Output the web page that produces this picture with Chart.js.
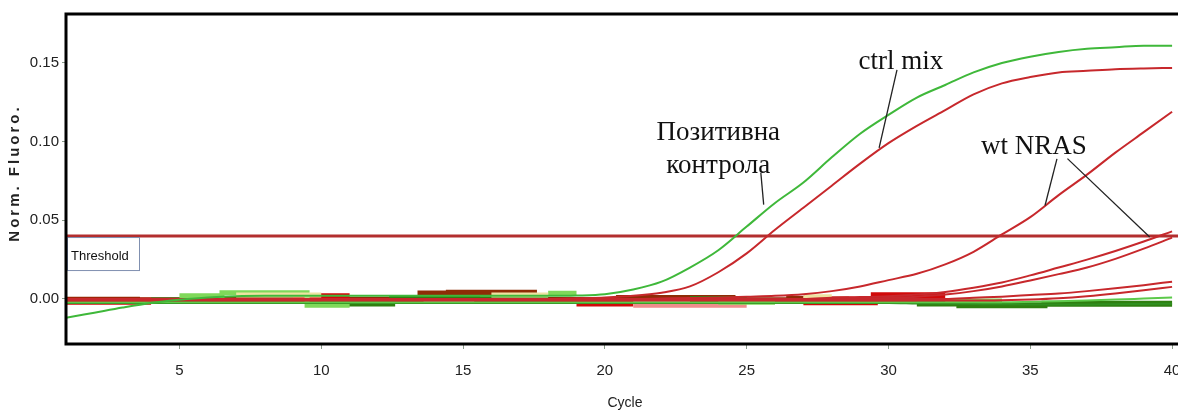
<!DOCTYPE html>
<html>
<head>
<meta charset="utf-8">
<script src="https://cdn.jsdelivr.net/npm/chart.js@4.4.0/dist/chart.umd.min.js"></script>
<style>
  html, body { margin: 0; padding: 0; background: #fff; overflow: hidden; }
  #wrap { width: 1184px; height: 412px; position: relative; }
</style>
</head>
<body>
<div id="wrap"><canvas id="pcrChart"></canvas></div>
<script>
// cycles and axis ticks
const cycles = [1, 2, 3, 4, 5, 6, 7, 8, 9, 10, 11, 12, 13, 14, 15, 16, 17, 18, 19, 20,
  21, 22, 23, 24, 25, 26, 27, 28, 29, 30, 31, 32, 33, 34, 35, 36, 37, 38, 39, 40];
const xTicks = [5, 10, 15, 20, 25, 30, 35, 40];
const yTicks = [0, 0.05, 0.10, 0.15];
const thresholdValue = 0.04;

// amplification curves (Norm. Fluoro. per cycle)
const positiveControl = [-0.0120, -0.0087, -0.0054, -0.0025, -0.0005, 0.0010, 0.0018, 0.0020, 0.0020, 0.0020,
  0.0020, 0.0020, 0.0020, 0.0020, 0.0020, 0.0020, 0.0020, 0.0020, 0.0022, 0.0030,
  0.0060, 0.0110, 0.0200, 0.0310, 0.0460, 0.0610, 0.0740, 0.0900, 0.1050, 0.1170,
  0.1280, 0.1360, 0.1440, 0.1500, 0.1540, 0.1570, 0.1590, 0.1600, 0.1610, 0.1610];
const ctrlMix = [0, 0, 0, 0, 0, 0, 0, 0, 0, 0,
  0, 0, 0, 0, 0, 0, 0, 0, 0.0005, 0.0010,
  0.0020, 0.0040, 0.0080, 0.0170, 0.0290, 0.0440, 0.0580, 0.0720, 0.0860, 0.0990,
  0.1100, 0.1200, 0.1300, 0.1370, 0.1410, 0.1440, 0.1450, 0.1460, 0.1465, 0.1468];
const wtNras1 = [0, 0, 0, 0, 0, 0, 0, 0, 0, 0,
  0, 0, 0, 0, 0, 0, 0, 0, 0, 0,
  0, 0.0003, 0.0006, 0.0010, 0.0015, 0.0020, 0.0030, 0.0050, 0.0080, 0.0120,
  0.0160, 0.0220, 0.0300, 0.0410, 0.0520, 0.0660, 0.0790, 0.0930, 0.1060, 0.1190];
const wtNras2 = [0, 0, 0, 0, 0, 0, 0, 0, 0, 0,
  0, 0, 0, 0, 0, 0, 0, 0, 0, 0,
  0, 0, 0, 0, 0, 0, 0, 0.0008, 0.0012, 0.0018,
  0.0028, 0.0045, 0.0072, 0.0105, 0.0150, 0.0200, 0.0250, 0.0305, 0.0365, 0.0430];
const wtNras3 = [0, 0, 0, 0, 0, 0, 0, 0, 0, 0,
  0, 0, 0, 0, 0, 0, 0, 0, 0, 0,
  0, 0, 0, 0, 0, 0, 0, 0, 0, 0.0008,
  0.0015, 0.0028, 0.0050, 0.0080, 0.0118, 0.0158, 0.0200, 0.0255, 0.0320, 0.0390];
const lowRed1 = [0, 0, 0, 0, 0, 0, 0, 0, 0, 0,
  0, 0, 0, 0, 0, 0, 0, 0, 0, 0,
  0, 0, 0, 0, 0, 0, 0, 0, 0, 0,
  0, 0, 0.0008, 0.0015, 0.0025, 0.0035, 0.0050, 0.0068, 0.0088, 0.0110];
const lowRed2 = [-0.0010, -0.0010, -0.0010, -0.0010, -0.0010, -0.0010, -0.0010, -0.0010, -0.0010, -0.0010,
  -0.0010, -0.0010, -0.0010, -0.0010, -0.0010, -0.0010, -0.0010, -0.0010, -0.0010, -0.0010,
  -0.0010, -0.0010, -0.0010, -0.0010, -0.0010, -0.0010, -0.0010, -0.0010, -0.0010, -0.0010,
  -0.0010, -0.0010, -0.0010, -0.0008, -0.0003, 0.0005, 0.0018, 0.0035, 0.0055, 0.0077];
const negGreen1 = [-0.0020, -0.0020, -0.0020, -0.0020, -0.0020, -0.0020, -0.0020, -0.0020, -0.0020, -0.0020,
  -0.0020, -0.0020, -0.0020, -0.0020, -0.0020, -0.0020, -0.0020, -0.0020, -0.0020, -0.0020,
  -0.0020, -0.0020, -0.0020, -0.0020, -0.0020, -0.0020, -0.0020, -0.0020, -0.0020, -0.0020,
  -0.0020, -0.0020, -0.0020, -0.0020, -0.0018, -0.0015, -0.0010, -0.0004, 0.0003, 0.0010];
const negGreen2 = [-0.0025, -0.0025, -0.0025, -0.0025, -0.0025, -0.0025, -0.0025, -0.0025, -0.0025, -0.0025,
  -0.0025, -0.0025, -0.0025, -0.0025, -0.0025, -0.0025, -0.0025, -0.0025, -0.0025, -0.0025,
  -0.0025, -0.0025, -0.0025, -0.0025, -0.0025, -0.0025, -0.0025, -0.0025, -0.0025, -0.0025,
  -0.0028, -0.0030, -0.0032, -0.0034, -0.0035, -0.0035, -0.0035, -0.0033, -0.0032, -0.0030];

// noisy baseline pieces (stepped)
const bandBrown = [-0.0005, -0.0005, -0.0005, -0.0008, -0.0008, -0.0008, -0.0006, -0.0006, -0.0006, -0.0006,
  -0.0005, -0.0005, -0.0005, 0.0035, 0.0040, 0.0040, 0.0040, -0.0006, -0.0006, -0.0006,
  0.0006, 0.0006, 0.0006, 0.0006, -0.0008, -0.0008, 0.0000, 0.0000, -0.0008, -0.0008,
  -0.0008, -0.0025, -0.0025, -0.0025, null, null, null, null, null, null];
const bandRed = [-0.0014, -0.0014, -0.0014, -0.0014, null, null, null, null, 0.0015, 0.0015,
  0.0015, null, null, null, null, null, null, null, -0.0025, -0.0025,
  -0.0025, null, null, null, null, null, -0.0018, -0.0018, -0.0018, 0.0020,
  0.0020, 0.0020, null, null, null, null, null, null, null, null];
const bandGreen = [null, null, null, -0.0010, -0.0010, -0.0010, null, null, null, -0.0028,
  -0.0028, -0.0028, 0.0005, 0.0005, 0.0005, -0.0002, -0.0002, -0.0002, null, null,
  null, null, 0.0000, 0.0000, 0.0000, null, null, null, null, null,
  -0.0028, -0.0028, -0.0040, -0.0040, -0.0040, -0.0030, -0.0030, -0.0030, -0.0030, -0.0030];
const bandLight = [null, null, null, null, 0.0020, 0.0020, 0.0040, 0.0040, 0.0040, -0.0040,
  -0.0040, null, null, null, null, null, null, 0.0037, 0.0037, null,
  null, null, null, -0.0020, -0.0020, -0.0020, null, null, null, null,
  null, -0.0012, -0.0012, -0.0012, null, null, null, null, null, null];
const bandPale = [null, null, null, null, null, null, 0.0025, 0.0025, 0.0025, 0.0025,
  null, null, null, null, null, 0.0025, 0.0025, 0.0025, null, null,
  null, null, null, null, null, null, 0.0015, 0.0015, null, null,
  null, null, null, null, null, null, null, null, null, null];
const bandPink = [null, null, null, null, null, null, null, null, null, null,
  null, null, null, null, null, null, null, null, null, null,
  -0.0040, -0.0040, -0.0040, -0.0040, -0.0040, null, 0.0002, 0.0002, 0.0002, null,
  null, null, null, null, null, null, null, null, null, null];

// text labels and leader lines, in data units (cycle, fluoro)
const labelTexts = [
  { text: 'Позитивна', x: 24.0, y: 0.1055 },
  { text: 'контрола', x: 24.0, y: 0.0845 },
  { text: 'ctrl mix', x: 30.44, y: 0.1506 },
  { text: 'wt NRAS', x: 35.13, y: 0.0966 }
];
const leaderLines = [
  [25.50, 0.0801, 25.60, 0.0600],
  [30.30, 0.1456, 29.67, 0.0960],
  [35.94, 0.0890, 35.52, 0.0594],
  [36.31, 0.0892, 39.21, 0.0394]
];

const greenColor = '#3fb83a';
const redColor = '#c7282c';

function toPoints(values) {
  return values.map((v, i) => ({ x: cycles[i], y: v }));
}

function curve(values, color) {
  return {
    data: toPoints(values),
    borderColor: color,
    borderWidth: 2,
    pointRadius: 0,
    cubicInterpolationMode: 'monotone',
    fill: false
  };
}

function band(values, color, width) {
  return {
    data: toPoints(values),
    borderColor: color,
    borderWidth: width,
    pointRadius: 0,
    stepped: 'middle',
    spanGaps: false,
    fill: false,
    borderCapStyle: 'butt'
  };
}

const framePlugin = {
  id: 'frame',
  afterDraw(chart) {
    const { ctx, chartArea: a } = chart;
    ctx.save();
    ctx.strokeStyle = '#000';
    ctx.lineWidth = 3;
    ctx.strokeRect(a.left, a.top, a.right - a.left, a.bottom - a.top);
    // y axis title with wide letter spacing
    ctx.translate(15, (a.top + a.bottom) / 2 - 6);
    ctx.rotate(-Math.PI / 2);
    ctx.fillStyle = '#222';
    ctx.font = 'bold 15px "Liberation Sans", Arial, sans-serif';
    ctx.letterSpacing = '3px';
    ctx.textAlign = 'center';
    ctx.textBaseline = 'middle';
    ctx.fillText('Norm. Fluoro.', 0, 0);
    ctx.restore();
  }
};

const thresholdLabel = {
  id: 'thresholdLabel',
  afterDatasetsDraw(chart) {
    const { ctx, chartArea: a, scales } = chart;
    const top = scales.y.getPixelForValue(thresholdValue);
    ctx.save();
    ctx.fillStyle = '#fff';
    ctx.fillRect(a.left + 2, top + 2, 71, 32);
    ctx.strokeStyle = '#8090b0';
    ctx.lineWidth = 1;
    ctx.strokeRect(a.left + 1.5, top + 1.5, 72, 33);
    ctx.fillStyle = '#111';
    ctx.font = '13px "Liberation Sans", Arial, sans-serif';
    ctx.textBaseline = 'middle';
    ctx.fillText('Threshold', a.left + 5, top + 20);
    ctx.restore();
  }
};

const annotations = {
  id: 'annotations',
  afterDatasetsDraw(chart) {
    const { ctx, scales: { x, y } } = chart;
    ctx.save();
    ctx.fillStyle = '#111';
    ctx.font = '27px "Liberation Serif", "Times New Roman", serif';
    ctx.textAlign = 'center';
    ctx.textBaseline = 'middle';
    labelTexts.forEach(t => ctx.fillText(t.text, x.getPixelForValue(t.x), y.getPixelForValue(t.y)));
    ctx.strokeStyle = '#222';
    ctx.lineWidth = 1.3;
    leaderLines.forEach(l => {
      ctx.beginPath();
      ctx.moveTo(x.getPixelForValue(l[0]), y.getPixelForValue(l[1]));
      ctx.lineTo(x.getPixelForValue(l[2]), y.getPixelForValue(l[3]));
      ctx.stroke();
    });
    ctx.restore();
  }
};

new Chart(document.getElementById('pcrChart'), {
  type: 'line',
  data: {
    datasets: [
      curve(positiveControl, greenColor),
      curve(ctrlMix, redColor),
      curve(wtNras1, redColor),
      curve(wtNras2, redColor),
      curve(wtNras3, redColor),
      curve(lowRed1, redColor),
      curve(lowRed2, redColor),
      curve(negGreen1, '#5cc94a'),
      curve(negGreen2, '#2f8f1f'),
      {
        data: [{ x: 1, y: thresholdValue }, { x: 41, y: thresholdValue }],
        borderColor: '#b32e2e',
        borderWidth: 3,
        pointRadius: 0
      },
      band(bandPale, '#eee3a2', 5),
      band(bandLight, '#7fd85a', 5),
      band(bandPink, '#f08c8c', 5),
      band(bandGreen, '#2f7f10', 6),
      band(bandRed, '#d10a0a', 7),
      band(bandBrown, '#8e2c06', 6)
    ]
  },
  options: {
    responsive: true,
    maintainAspectRatio: false,
    animation: false,
    devicePixelRatio: 1,
    layout: { padding: { top: 14, left: 0, right: 0, bottom: 0 } },
    plugins: { legend: { display: false }, tooltip: { enabled: false } },
    scales: {
      x: {
        type: 'linear',
        min: 1,
        max: 40.42,
        afterBuildTicks: s => { s.ticks = xTicks.map(v => ({ value: v })); },
        afterFit: s => { s.height = 68; s.paddingRight = 0; s.paddingLeft = 0; },
        grid: { drawOnChartArea: false, drawTicks: true, tickLength: 5, color: '#8a9a8a' },
        border: { display: false },
        ticks: {
          color: '#222',
          font: { family: '"Liberation Sans", Arial, sans-serif', size: 15 },
          padding: 13,
          maxRotation: 0,
          callback: v => String(v)
        },
        title: {
          display: true,
          text: 'Cycle',
          color: '#222',
          font: { family: '"Liberation Sans", Arial, sans-serif', size: 14 },
          padding: { top: 2, bottom: 0 }
        }
      },
      y: {
        min: -0.0286,
        max: 0.1811,
        afterBuildTicks: s => { s.ticks = yTicks.map(v => ({ value: v })); },
        afterFit: s => { s.width = 66; },
        grid: { drawOnChartArea: false, drawTicks: true, tickLength: 4, color: '#8a9a8a' },
        border: { display: false },
        ticks: {
          color: '#222',
          font: { family: '"Liberation Sans", Arial, sans-serif', size: 15 },
          padding: 3,
          callback: v => v.toFixed(2)
        },
        title: { display: false }
      }
    }
  },
  plugins: [framePlugin, thresholdLabel, annotations]
});
</script>
</body>
</html>
